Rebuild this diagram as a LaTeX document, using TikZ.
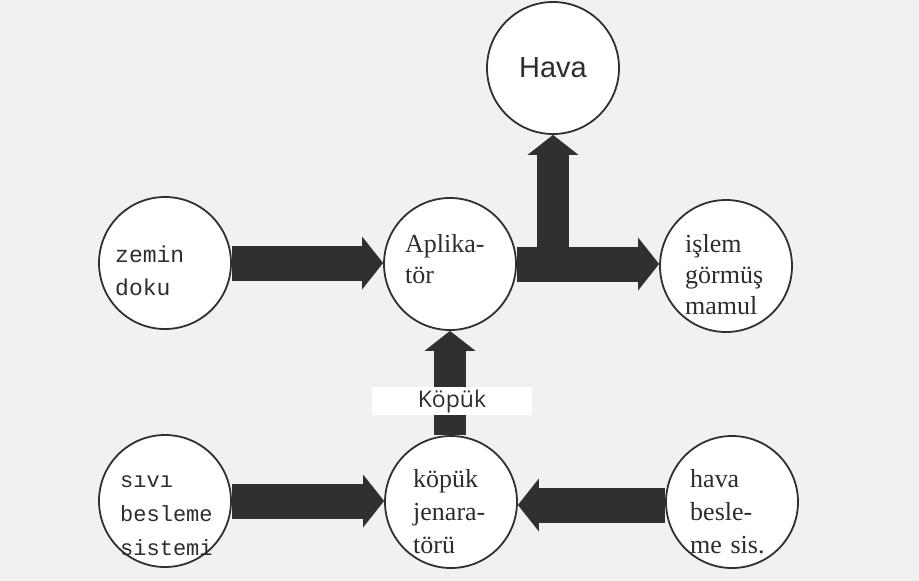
\documentclass[tikz,border=0pt]{standalone}
\usepackage{fontspec}
\setmainfont{Liberation Serif}
\newfontfamily\monof{Liberation Mono}
\newfontfamily\arialf{Liberation Sans}
\newfontfamily\osansf{Open Sans}
\usetikzlibrary{arrows.meta,calc}
\definecolor{bg}{RGB}{241,241,241}
\definecolor{ink}{RGB}{48,48,48}
\definecolor{txt}{RGB}{45,45,45}
\tikzset{
  circ/.style={circle, draw=ink, line width=1.8pt, fill=white, minimum size=132pt, inner sep=0pt},
  barrow/.style={draw=ink, line width=35pt, -{Triangle[length=21pt,width=53pt,line width=0pt]}},
  varrow/.style={draw=ink, line width=32pt, -{Triangle[length=20pt,width=51pt,line width=0pt]}},
  lbl/.style={anchor=base west, inner sep=0pt, text width=140pt, align=left, text=txt},
  serif26/.style={font=\fontsize{26}{31}\selectfont},
  serif26b/.style={font=\fontsize{26}{33}\selectfont},
  mono23/.style={font=\monof\fontsize{23}{33}\selectfont},
  mono22/.style={font=\monof\fontsize{22}{34}\selectfont}
}
\begin{document}
\begin{tikzpicture}[x=1pt,y=-1pt]
\useasboundingbox (0,0) rectangle (919,581);
\fill[bg] (0,0) rectangle (919,581);

% circles
\node[circ, font=\arialf\fontsize{29}{34}\selectfont, text=txt] (hv) at (553,68) {Hava\hspace{12pt}};
\node[circ] (zd) at (165,263) {};
\node[circ] (ap) at (450,264) {};
\node[circ] (im) at (726,266) {};
\node[circ] (sb) at (165,501) {};
\node[circ] (kj) at (451,502) {};
\node[circ] (hb) at (732,502) {};

% arrows
\draw[barrow] (zd.east) -- (zd.east -| ap.west);
\draw[barrow] (ap.east) -- (ap.east -| im.west);
\coordinate (br) at (553,279);
\draw[varrow] (br) -- (br |- hv.south);
\draw[varrow] (ap.south |- kj.north) -- (ap.south);
\draw[barrow] (sb.east) -- (sb.east -| kj.west);
\draw[barrow] ($(hb.west)+(0,3)$) -- ($(hb.west -| kj.east)+(0,3)$);

% Köpük label
\node[anchor=base, fill=white, minimum width=160pt, text height=18pt, text depth=6pt, inner ysep=2pt,
      font=\osansf\fontsize{23}{27}\selectfont, text=txt] (kl) at (452,407) {Köpük};

% circle texts
\node[lbl, mono23] (zdt) at (115,262) {zemin\\doku};
\node[lbl, serif26] (apt) at (405,252) {Aplika-\\tör};
\node[lbl, serif26] (imt) at (685,252) {işlem\\görmüş\\mamul};
\node[lbl, mono22] (sbt) at (120,487) {sıvı\\besleme\\sistemi};
\node[lbl, serif26b] (kjt) at (413,487) {köpük\\jenara-\\törü};
\node[lbl, serif26b] (hbt) at (690,487) {hava\\besle-\\me sis.};
\end{tikzpicture}
\end{document}
